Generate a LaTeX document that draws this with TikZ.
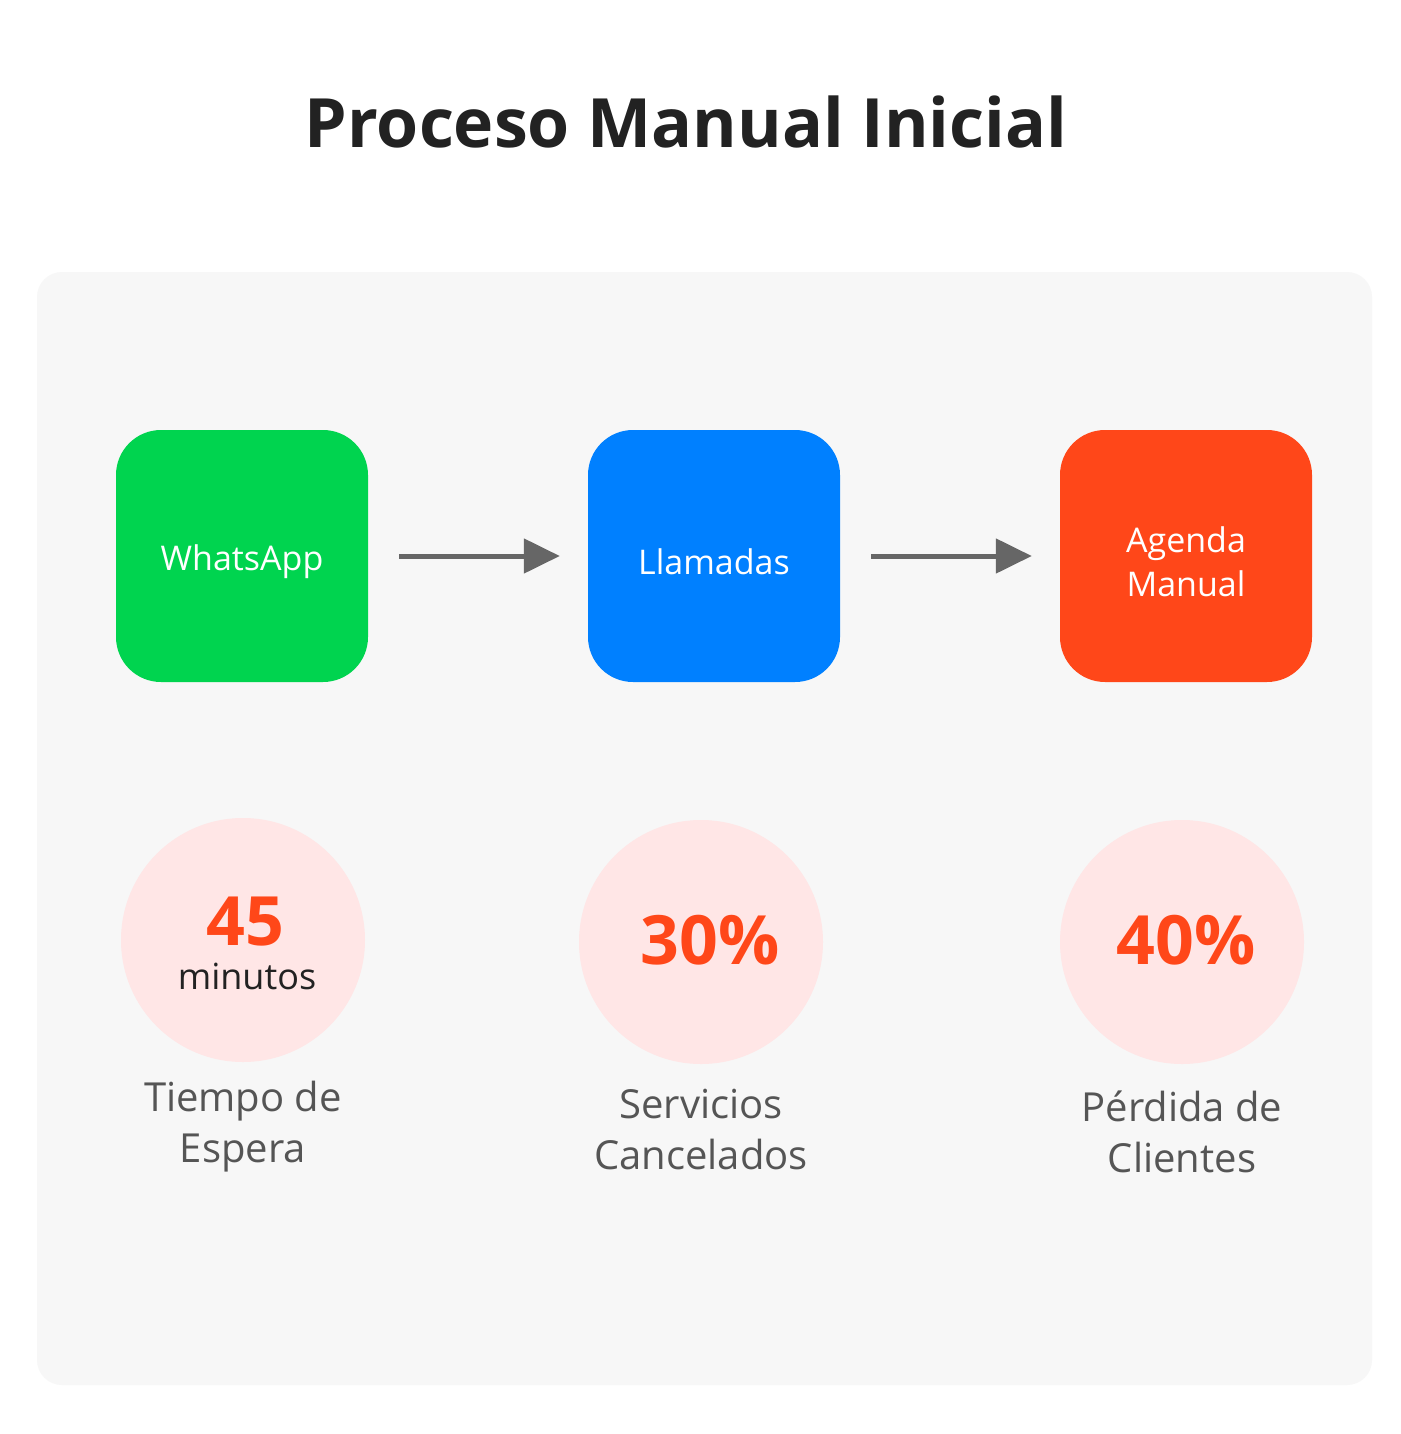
\documentclass[tikz,border=0pt]{standalone}
\usepackage{fontspec}
\setmainfont{Open Sans}
\usetikzlibrary{arrows.meta,calc}
\definecolor{panel}{HTML}{F7F7F7}
\definecolor{wgreen}{HTML}{00D44F}
\definecolor{lblue}{HTML}{0080FF}
\definecolor{ored}{HTML}{FF4719}
\definecolor{pinkc}{HTML}{FFE6E6}
\definecolor{arr}{HTML}{666666}
\definecolor{lbl}{HTML}{555555}
\definecolor{ttl}{HTML}{222222}
\begin{document}
\begin{tikzpicture}[x=1pt,y=-1pt,
  box/.style={rounded corners=45pt,minimum width=252pt,minimum height=252pt,inner sep=0pt,text=white,font=\fontsize{34}{44}\selectfont,align=center},
  circ/.style={circle,fill=pinkc,minimum size=244pt,inner sep=0pt},
  flow/.style={arr,line width=5pt,-{Triangle[length=36pt,width=34pt]}},
  lab/.style={text=lbl,font=\fontsize{40}{51}\selectfont,align=center},
  big/.style={text=ored,inner sep=0pt,font=\bfseries\fontsize{68}{70}\selectfont}]
\useasboundingbox (0,0) rectangle (1400,1434);
\fill[white] (0,0) rectangle (1400,1434);
\fill[panel,rounded corners=25pt] (37,272) rectangle (1372,1385);
\node[text=ttl,font=\bfseries\fontsize{68}{80}\selectfont] (title) at (686,122) {Proceso Manual Inicial};
\node[box,fill=wgreen] (wa) at (242,556) {};
\node[box,fill=lblue] (ll) at (714,556) {};
\node[box,fill=ored] (ag) at (1186,556) {};
\node[text=white,font=\fontsize{34}{44}\selectfont,align=center] (wat) at (242,562) {WhatsApp};
\node[text=white,font=\fontsize{34}{44}\selectfont,align=center] (llt) at (714,562) {Llamadas};
\node[text=white,font=\fontsize{34}{44}\selectfont,align=center] (agt) at (1186,562) {Agenda\\Manual};
\coordinate (a1) at ($(wa.east)+(31,0)$);
\coordinate (a2) at ($(ll.west)+(-28,0)$);
\coordinate (b1) at ($(ll.east)+(31,0)$);
\coordinate (b2) at ($(ag.west)+(-28,0)$);
\draw[flow] (a1) -- (a2);
\draw[flow] (b1) -- (b2);
\node[circ] (c1) at (243,940) {};
\node[circ] (c2) at (701,942) {};
\node[circ] (c3) at (1182,942) {};
\node[big] (n1) at (245,922) {45};
\node[text=ttl,inner sep=0pt,font=\fontsize{36}{40}\selectfont] (m1) at (247,976) {minutos};
\node[big] (n2) at (710,940) {30\%};
\node[big] (n3) at (1186,940) {40\%};
\node[lab] (l1) at (243,1127) {Tiempo de\\Espera};
\node[lab] (l2) at (701,1130) {Servicios\\Cancelados};
\node[lab] (l3) at (1182,1132) {Pérdida de\\Clientes};
\end{tikzpicture}
\end{document}
